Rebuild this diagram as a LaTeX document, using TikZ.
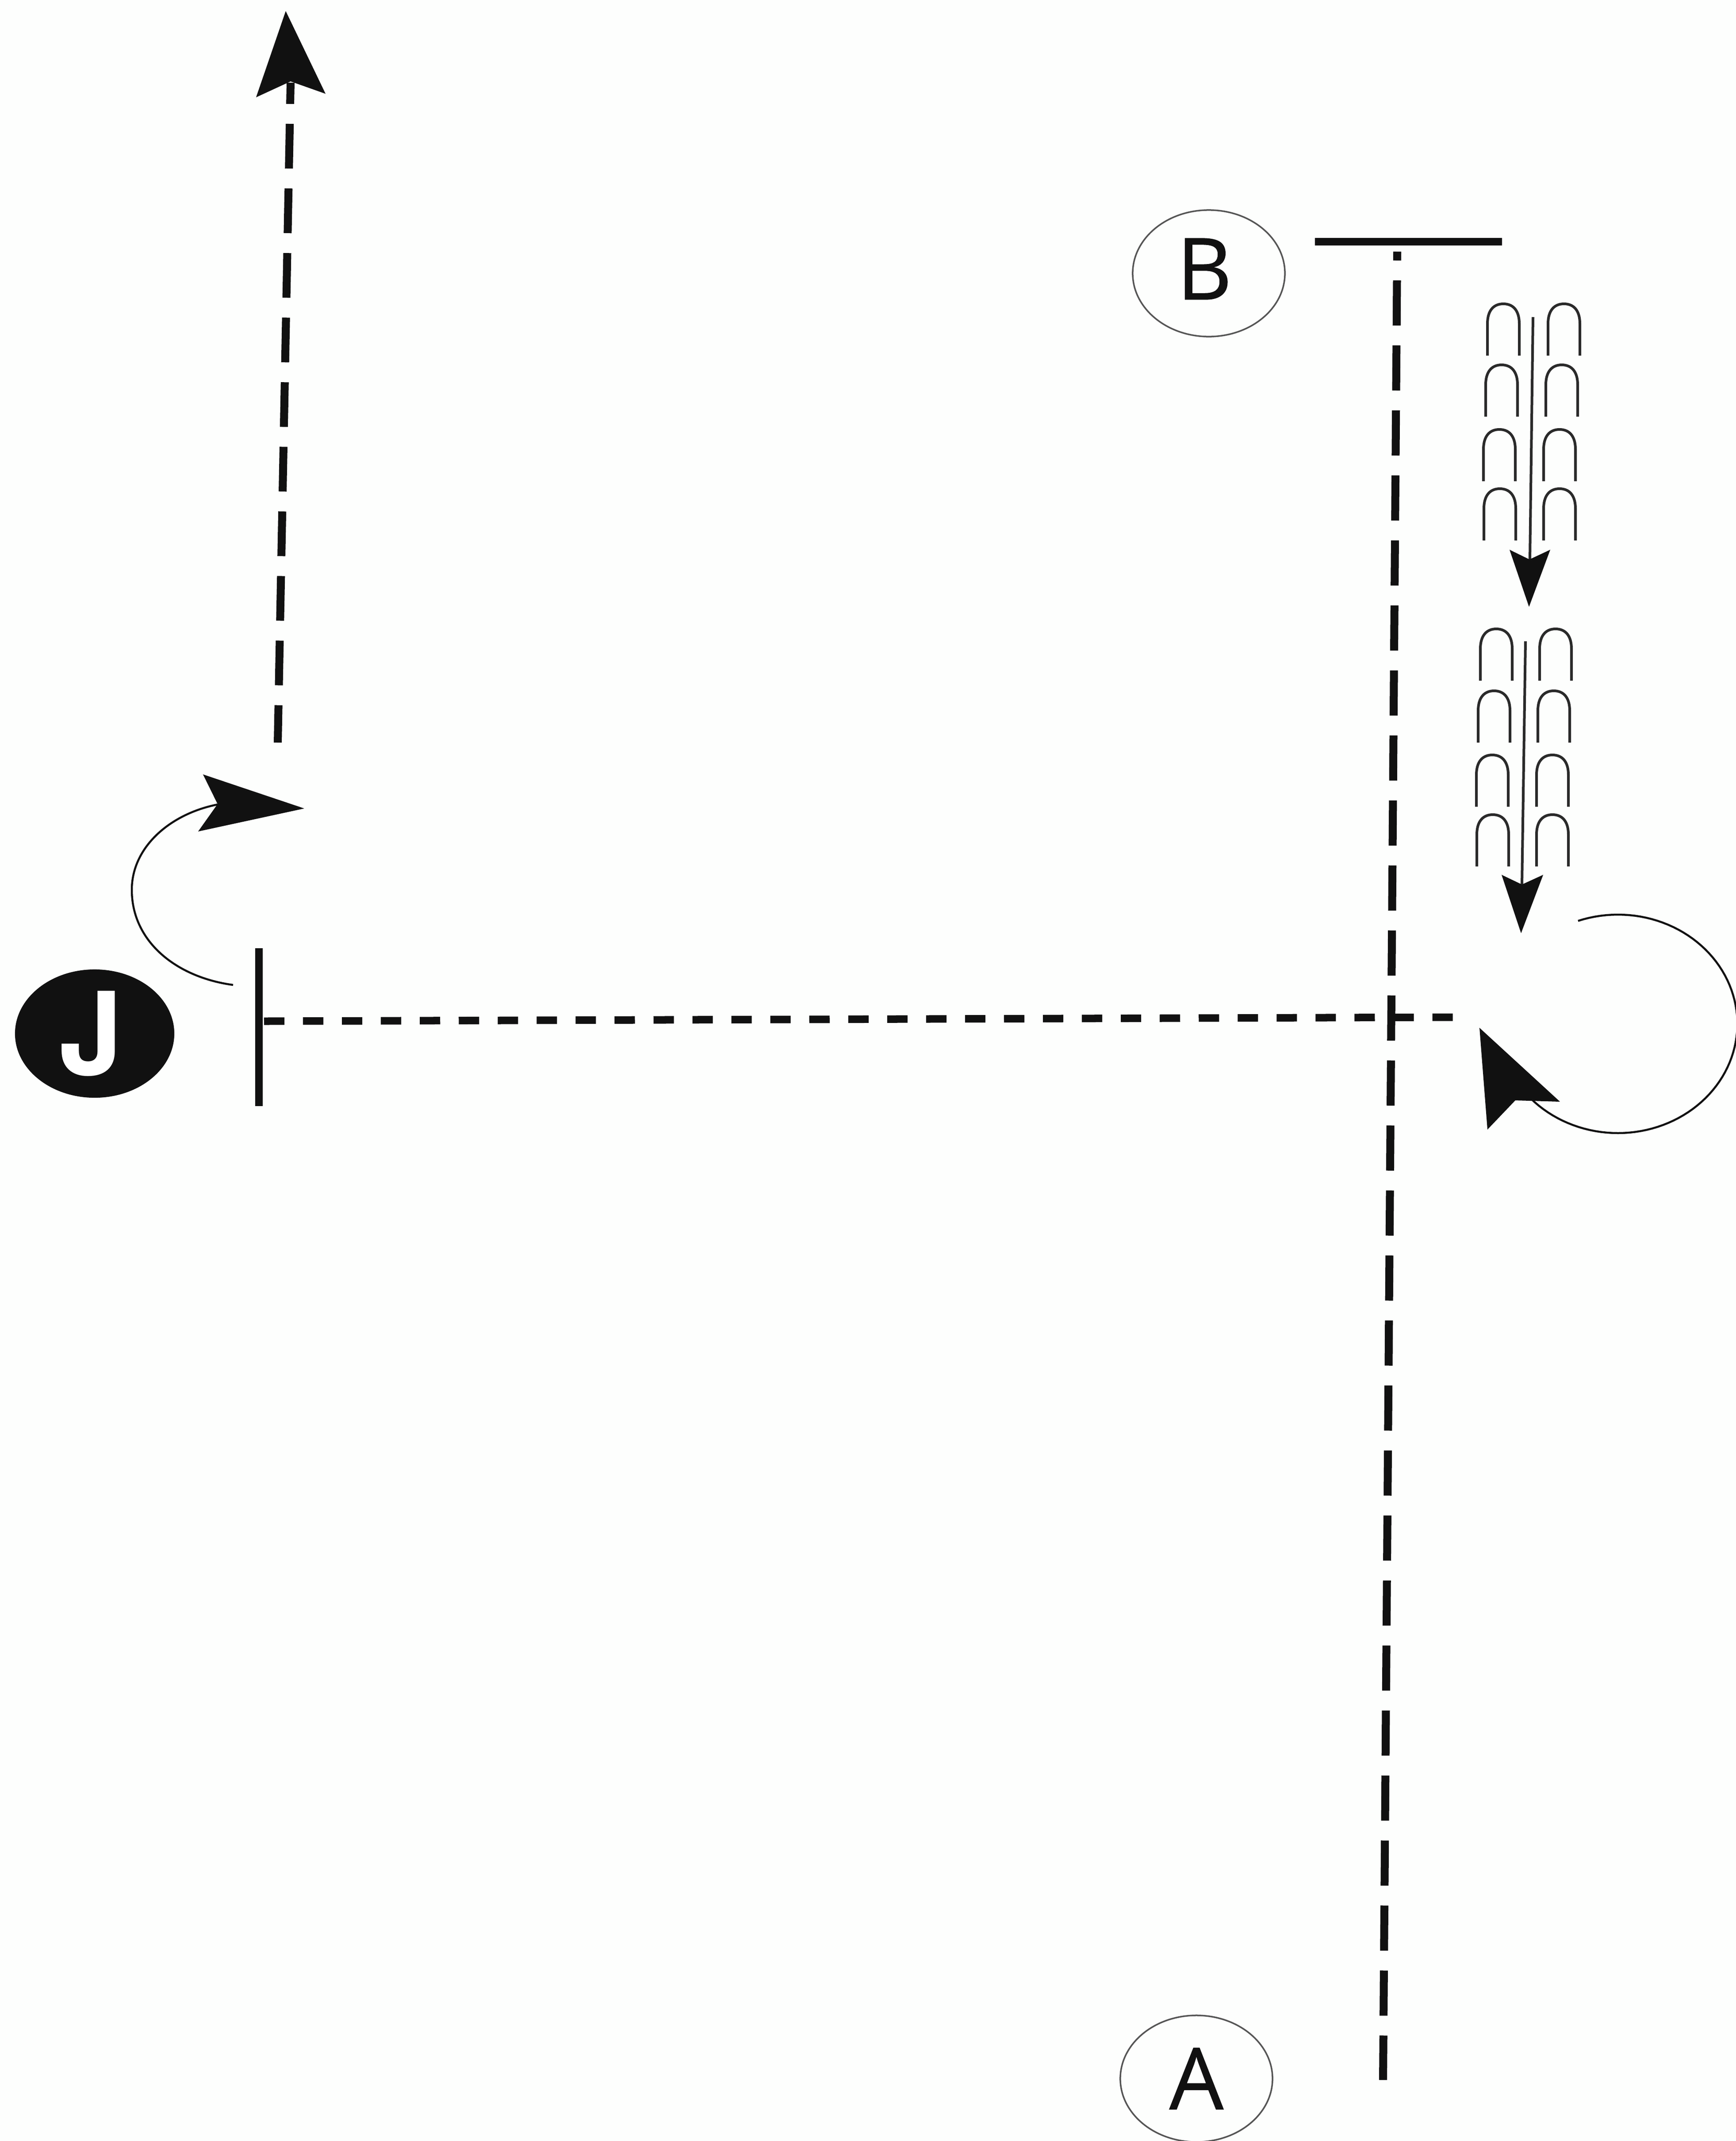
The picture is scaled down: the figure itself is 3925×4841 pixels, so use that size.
\documentclass[tikz,border=0pt]{standalone}
\usepackage{fontspec}
\usetikzlibrary{shapes.geometric}
\setmainfont[FakeBold=0.6]{Open Sans}
\newfontfamily\jfont{TeX Gyre Heros Bold}
\definecolor{ink}{HTML}{111111}
\definecolor{paper}{HTML}{FDFEFD}
\definecolor{ringgrey}{HTML}{555555}
\definecolor{hairink}{HTML}{2A2A2A}
\tikzset{
  x=0.01cm, y=-0.01cm,
  heavy/.style={draw=ink, line width=0.17cm},
  longdash/.style={heavy, line width=0.18cm, dash pattern=on 1.02cm off 0.449cm},
  shortdash/.style={heavy, dash pattern=on 0.46cm off 0.42cm},
  thinarc/.style={draw=ink, line width=0.045cm},
  head/.style={fill=ink},
  hairstem/.style={draw=hairink, line width=0.06cm},
  hairpin/.pic={\draw[draw=hairink, line width=0.06cm] (0,0) -- (0,-72) .. controls (0,-102) and (14,-117) .. (36,-117) .. controls (58,-117) and (72,-102) .. (72,-72) -- (72,0);},
  ring/.style={ellipse, draw=ringgrey, line width=0.035cm, inner sep=0pt, minimum width=3.44cm, minimum height=2.86cm, font=\fontsize{55}{60}\selectfont, text=ink}
}
\begin{document}
\begin{tikzpicture}
\clip (0,0) rectangle (3925,4841);
\fill[paper] (0,0) rectangle (3925,4841);

% labelled ellipses
\node[ring] (B) at (2733,618) {\hspace{-0.2cm}\raisebox{0.2cm}{B}};
\node[ring] (A) at (2705,4700) {A};
\node[ellipse, fill=ink, inner sep=0pt, minimum width=3.6cm, minimum height=2.9cm, text=white, font=\jfont\fontsize{74}{80}\selectfont] (J) at (214,2337) {\hspace{-0.16cm}J};

% bars
\coordinate (barBl) at (2973,546);
\coordinate (barBr) at (3396,546);
\draw[heavy] (barBl) -- (barBr);
\coordinate (barJt) at (585,2144);
\coordinate (barJb) at (585,2501);
\draw[heavy] (barJt) -- (barJb);

% dashed axes
\coordinate (vTop) at (3159,569);
\coordinate (vBot) at (3127,4703);
\draw[longdash, dash phase=0.82cm] (vTop) -- (vBot);
\coordinate (hL) at (597,2309);
\coordinate (hR) at (3287,2300);
\draw[shortdash] (hL) -- (hR);
\coordinate (uTop) at (657,187);
\coordinate (uBot) at (628,1679);
\draw[longdash, dash pattern=on 1.01cm off 0.45cm, dash phase=0.53cm] (uTop) -- (uBot);

% top arrowhead
\coordinate (uTip) at (646,25);
\fill[head] (uTip) -- (736,212) -- (657,184) -- (579,220) -- cycle;

% J turn
\coordinate (jS) at (527,2227);
\coordinate (jE) at (492,1819);
\draw[thinarc] (jS) .. controls (400,2210) and (298,2130) .. (298,2012) .. controls (298,1915) and (385,1840) .. (jE);
\coordinate (jTip) at (688,1828);
\fill[head] (jTip) -- (448,1880) -- (492,1818) -- (459,1751) -- cycle;

% right turn
\coordinate (rS) at (3568,2084);
\draw[thinarc] (rS) plot[domain=250.5:497, samples=90] ({3658+270*cos(\x)},{2315+247*sin(\x)});
\coordinate (rTip) at (3345,2324);
\fill[head] (rTip) -- (3527,2491) -- (3426,2488) -- (3363,2554) -- cycle;

% upper hairpin group
\pic at (3363,804) {hairpin};
\pic at (3359,942) {hairpin};
\pic at (3354,1088) {hairpin};
\pic at (3355,1222) {hairpin};
\pic at (3500,804) {hairpin};
\pic at (3495,942) {hairpin};
\pic at (3490,1088) {hairpin};
\pic at (3490,1222) {hairpin};
\coordinate (s1a) at (3466,717);
\coordinate (s1b) at (3459,1265);
\draw[hairstem] (s1a) -- (s1b);
\fill[head] (3457,1372) -- (3413,1243) -- (3458,1265) -- (3505,1243) -- cycle;

% lower hairpin group
\pic at (3347,1539) {hairpin};
\pic at (3342,1679) {hairpin};
\pic at (3338,1824) {hairpin};
\pic at (3339,1959) {hairpin};
\pic at (3481,1539) {hairpin};
\pic at (3477,1679) {hairpin};
\pic at (3474,1824) {hairpin};
\pic at (3474,1959) {hairpin};
\coordinate (s2a) at (3449,1450);
\coordinate (s2b) at (3441,2000);
\draw[hairstem] (s2a) -- (s2b);
\fill[head] (3439,2110) -- (3395,1978) -- (3441,2000) -- (3489,1978) -- cycle;
\end{tikzpicture}
\end{document}
